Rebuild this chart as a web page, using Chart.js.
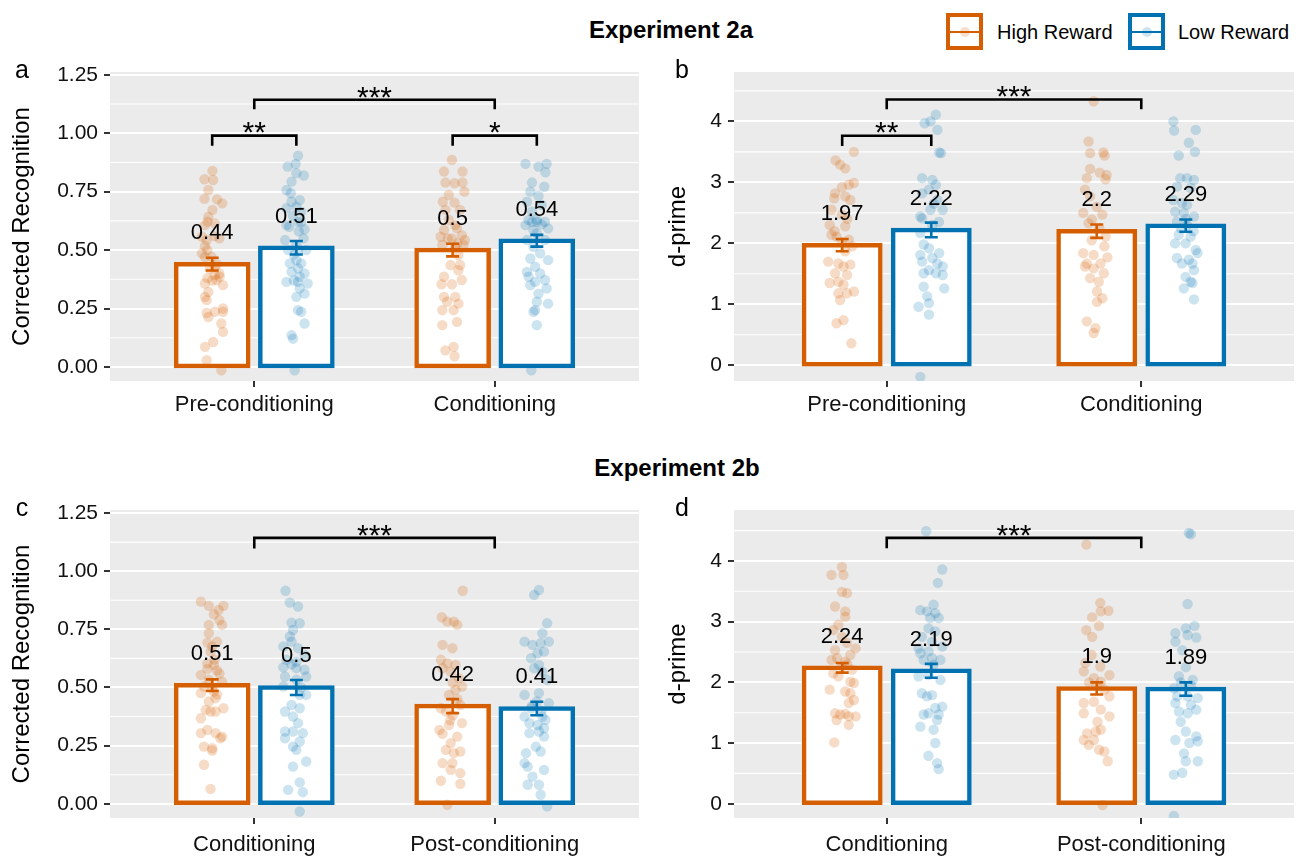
<!DOCTYPE html>
<html><head><meta charset="utf-8">
<script src="https://cdn.jsdelivr.net/npm/chart.js@4.4.1/dist/chart.umd.min.js"></script>
<style>
html,body{margin:0;padding:0;background:#fff;}
#page{position:relative;width:1306px;height:859px;overflow:hidden;font-family:"Liberation Sans",Arial,Helvetica,sans-serif;}
canvas{position:absolute;}
.t{position:absolute;white-space:nowrap;color:#000;line-height:1;transform:translate(-50%,-50%);}
.lg{position:absolute;white-space:nowrap;color:#000;line-height:1;transform:translateY(-50%);font-size:20px;}
.box{position:absolute;width:37px;height:37px;box-sizing:border-box;border:4px solid;background:#fff;}
.box .ln{position:absolute;left:0;right:0;top:13.5px;height:2.5px;}
.box .dt{position:absolute;left:9.5px;top:9.5px;width:10px;height:10px;border-radius:50%;}
</style></head><body><div id="page">
<canvas id="ca" width="655" height="385" style="left:0px;top:50px;"></canvas>
<canvas id="cb" width="646" height="385" style="left:660px;top:50px;"></canvas>
<canvas id="cc" width="655" height="371" style="left:0px;top:488px;"></canvas>
<canvas id="cd" width="646" height="371" style="left:660px;top:488px;"></canvas>

<div class="t" style="left:671px;top:30px;font-size:24px;font-weight:bold;">Experiment 2a</div>
<div class="t" style="left:677px;top:468px;font-size:24px;font-weight:bold;">Experiment 2b</div>
<div class="t" style="left:22px;top:69px;font-size:25px;">a</div>
<div class="t" style="left:682px;top:69px;font-size:25px;">b</div>
<div class="t" style="left:22px;top:507px;font-size:25px;">c</div>
<div class="t" style="left:682px;top:507px;font-size:25px;">d</div>

<div class="box" style="left:946px;top:13px;border-color:#D55E00;"><div class="ln" style="background:#D55E00"></div><div class="dt" style="background:rgba(213,94,0,0.2)"></div></div>
<div class="lg" style="left:997px;top:32px;">High Reward</div>
<div class="box" style="left:1128px;top:13px;border-color:#0072B2;"><div class="ln" style="background:#0072B2"></div><div class="dt" style="background:rgba(0,114,178,0.2)"></div></div>
<div class="lg" style="left:1178px;top:32px;">Low Reward</div>
</div>
<script>
// ---------------- DATA ----------------
const CATS_2A = ['Pre-conditioning', 'Conditioning'];
const CATS_2B = ['Conditioning', 'Post-conditioning'];
const Y_TICKS_REC = [0, 0.25, 0.5, 0.75, 1.0, 1.25];
const Y_TICKS_DP = [0, 1, 2, 3, 4];

// bar means (High, Low) per category
const A_HIGH_MEAN = [0.44, 0.5];  const A_LOW_MEAN = [0.51, 0.54];
const B_HIGH_MEAN = [1.97, 2.2];  const B_LOW_MEAN = [2.22, 2.29];
const C_HIGH_MEAN = [0.51, 0.42]; const C_LOW_MEAN = [0.5, 0.41];
const D_HIGH_MEAN = [2.24, 1.9];  const D_LOW_MEAN = [2.19, 1.89];
// standard errors
const A_HIGH_SE = [0.027, 0.027]; const A_LOW_SE = [0.029, 0.025];
const B_HIGH_SE = [0.10, 0.11];   const B_LOW_SE = [0.12, 0.10];
const C_HIGH_SE = [0.025, 0.03];  const C_LOW_SE = [0.032, 0.029];
const D_HIGH_SE = [0.08, 0.10];   const D_LOW_SE = [0.115, 0.11];

// significance brackets: [from, to, height, tip, label]; from/to: category index +/- side (-1 high, +1 low, 0 centre)
const A_SIG = [[[1,-1],[1,1],0.99,0.043,'**'], [[2,-1],[2,1],0.99,0.043,'*'], [[1,0],[2,0],1.143,0.04,'***']];
const B_SIG = [[[1,-1],[1,1],3.765,0.17,'**'], [[1,0],[2,0],4.36,0.16,'***']];
const C_SIG = [[[1,0],[2,0],1.143,0.045,'***']];
const D_SIG = [[[1,0],[2,0],4.38,0.17,'***']];

// individual participants: [value, horizontal jitter]
const A_PRE_HIGH = [[0.839,0.001],[0.803,-0.032],[0.800,0.004],[0.757,-0.016],[0.719,-0.032],[0.717,0.020],[0.700,0.042],[0.672,0.001],[0.643,-0.016],[0.622,-0.019],[0.607,-0.030],[0.614,0.011],[0.560,0.010],[0.557,-0.043],[0.550,0.030],[0.543,-0.023],[0.517,-0.030],[0.500,-0.020],[0.486,-0.043],[0.471,-0.003],[0.470,-0.030],[0.440,0.020],[0.429,0.011],[0.420,-0.010],[0.400,0.030],[0.393,0.011],[0.386,0.031],[0.380,-0.020],[0.372,0.018],[0.370,0.000],[0.357,-0.030],[0.350,0.045],[0.321,-0.016],[0.300,-0.030],[0.286,-0.023],[0.250,0.045],[0.236,0.045],[0.236,0.011],[0.231,-0.023],[0.214,-0.016],[0.186,0.038],[0.150,0.045],[0.107,0.004],[0.086,-0.030],[0.029,-0.023],[-0.014,0.038]];
const A_PRE_LOW = [[0.904,0.007],[0.869,-0.003],[0.857,-0.036],[0.829,0.000],[0.819,0.031],[0.793,-0.020],[0.757,-0.041],[0.743,-0.023],[0.714,0.014],[0.707,-0.020],[0.686,0.000],[0.679,-0.041],[0.664,0.020],[0.646,-0.014],[0.621,0.007],[0.620,0.020],[0.607,-0.041],[0.600,-0.030],[0.589,0.034],[0.580,0.010],[0.550,0.030],[0.543,-0.047],[0.522,0.000],[0.500,0.007],[0.500,-0.034],[0.500,0.041],[0.480,-0.010],[0.457,0.000],[0.443,-0.027],[0.443,0.020],[0.422,0.007],[0.407,-0.020],[0.400,0.034],[0.386,0.014],[0.370,-0.010],[0.364,-0.041],[0.364,0.007],[0.357,0.047],[0.336,0.014],[0.314,0.034],[0.300,0.000],[0.243,0.007],[0.236,0.020],[0.186,0.034],[0.136,-0.020],[0.121,-0.014],[-0.014,-0.007]];
const A_COND_HIGH = [[0.886,-0.003],[0.836,-0.036],[0.836,0.041],[0.789,-0.030],[0.786,0.008],[0.789,0.041],[0.750,0.049],[0.736,-0.016],[0.707,-0.041],[0.703,0.008],[0.672,-0.030],[0.672,0.031],[0.629,-0.016],[0.607,0.011],[0.593,0.018],[0.586,-0.036],[0.564,0.038],[0.557,-0.050],[0.550,-0.003],[0.550,-0.020],[0.543,0.051],[0.530,0.020],[0.522,0.045],[0.522,-0.043],[0.514,0.011],[0.479,0.024],[0.436,-0.009],[0.436,0.031],[0.414,0.024],[0.386,-0.036],[0.372,0.038],[0.354,-0.046],[0.354,-0.003],[0.300,-0.036],[0.300,0.011],[0.279,-0.023],[0.271,0.024],[0.243,-0.043],[0.243,0.004],[0.193,0.018],[0.179,-0.043],[0.086,0.004],[0.071,-0.030],[0.046,0.008]];
const A_COND_LOW = [[0.869,-0.047],[0.857,0.007],[0.869,0.041],[0.833,0.036],[0.789,-0.020],[0.771,0.031],[0.750,-0.027],[0.732,0.007],[0.707,-0.041],[0.693,0.020],[0.664,-0.020],[0.630,0.000],[0.629,-0.034],[0.621,0.000],[0.621,0.034],[0.620,-0.020],[0.610,0.020],[0.607,-0.047],[0.593,0.047],[0.586,-0.014],[0.572,0.000],[0.543,-0.041],[0.543,0.034],[0.514,-0.014],[0.486,0.014],[0.464,-0.027],[0.457,0.047],[0.429,-0.007],[0.407,-0.041],[0.400,0.014],[0.386,-0.034],[0.372,0.034],[0.364,-0.007],[0.350,-0.027],[0.336,0.041],[0.314,0.007],[0.279,0.000],[0.271,0.047],[0.243,-0.007],[0.236,-0.014],[0.179,0.000],[-0.014,-0.023]];

const B_PRE_HIGH = [[3.50,0.046],[3.36,-0.026],[3.29,-0.008],[3.23,0.012],[2.99,0.046],[2.96,0.026],[2.92,-0.001],[2.82,-0.028],[2.77,0.012],[2.74,-0.031],[2.71,0.032],[2.55,-0.042],[2.47,-0.001],[2.40,0.020],[2.30,-0.049],[2.28,0.012],[2.20,-0.030],[2.14,-0.042],[2.11,-0.022],[2.06,0.026],[2.02,0.000],[1.95,0.039],[1.87,0.012],[1.70,-0.055],[1.67,-0.015],[1.65,0.032],[1.62,0.005],[1.51,-0.028],[1.48,0.019],[1.37,-0.015],[1.35,-0.049],[1.32,0.005],[1.21,0.046],[1.18,0.019],[1.18,-0.015],[1.07,-0.008],[0.74,0.005],[0.69,-0.022],[0.36,0.036]];
const B_PRE_LOW = [[4.11,0.018],[4.00,-0.003],[3.97,-0.026],[3.86,0.024],[3.49,0.031],[3.48,0.038],[3.07,-0.036],[3.04,0.004],[2.96,0.018],[2.88,-0.009],[2.82,-0.036],[2.71,0.024],[2.65,0.010],[2.55,0.045],[2.55,-0.003],[2.44,-0.043],[2.41,-0.036],[2.35,0.030],[2.30,0.004],[2.17,-0.043],[1.98,-0.030],[1.92,-0.009],[1.84,0.031],[1.81,-0.043],[1.76,0.004],[1.70,-0.036],[1.67,0.024],[1.62,0.045],[1.56,-0.009],[1.51,-0.030],[1.51,0.018],[1.48,0.045],[1.29,-0.030],[1.26,0.051],[1.13,-0.016],[1.02,-0.009],[0.96,-0.050],[0.83,-0.009],[-0.19,-0.043]];
const B_COND_HIGH = [[4.33,-0.012],[3.67,-0.032],[3.49,0.026],[3.48,-0.026],[3.44,0.031],[3.22,-0.026],[3.16,0.012],[3.12,0.039],[3.07,-0.039],[3.05,0.035],[2.88,-0.046],[2.77,-0.026],[2.60,0.000],[2.50,-0.053],[2.47,0.022],[2.39,-0.019],[2.33,-0.032],[2.25,0.010],[2.11,0.035],[2.05,-0.020],[1.95,0.030],[1.84,-0.053],[1.81,-0.012],[1.77,0.042],[1.67,-0.039],[1.67,0.015],[1.62,-0.046],[1.59,-0.012],[1.51,0.028],[1.43,-0.026],[1.37,0.008],[1.21,0.001],[1.10,0.022],[1.04,0.001],[0.72,-0.039],[0.61,-0.005],[0.53,-0.012]];
const B_COND_LOW = [[4.00,-0.049],[3.85,-0.046],[3.86,0.039],[3.65,0.012],[3.50,0.036],[3.44,-0.028],[3.07,-0.022],[3.07,0.005],[3.04,0.032],[2.93,-0.035],[2.91,0.019],[2.71,-0.049],[2.66,-0.015],[2.63,0.005],[2.52,-0.042],[2.50,-0.008],[2.44,0.032],[2.40,0.000],[2.36,-0.035],[2.30,0.005],[2.25,-0.020],[2.20,0.030],[2.14,-0.028],[2.11,0.019],[2.00,-0.042],[2.00,-0.001],[1.89,0.039],[1.84,0.046],[1.76,-0.035],[1.73,0.012],[1.67,-0.015],[1.67,0.026],[1.56,0.032],[1.45,-0.001],[1.37,0.019],[1.35,0.026],[1.26,-0.008],[1.08,0.032]];

const C_COND_HIGH = [[0.869,-0.047],[0.851,-0.014],[0.851,0.047],[0.833,0.027],[0.815,0.007],[0.790,0.030],[0.769,0.041],[0.769,-0.014],[0.733,-0.014],[0.697,0.020],[0.693,-0.020],[0.676,0.000],[0.654,-0.007],[0.620,0.010],[0.604,-0.020],[0.597,0.007],[0.580,-0.020],[0.573,0.020],[0.560,0.030],[0.554,-0.047],[0.533,-0.014],[0.525,0.041],[0.504,-0.034],[0.500,0.000],[0.482,0.007],[0.476,-0.047],[0.470,0.020],[0.454,0.014],[0.440,-0.014],[0.411,0.047],[0.404,-0.027],[0.397,-0.007],[0.397,0.014],[0.368,-0.047],[0.318,-0.020],[0.304,-0.047],[0.304,0.014],[0.289,0.041],[0.282,0.034],[0.246,-0.034],[0.239,0.000],[0.229,0.000],[0.168,-0.034],[0.064,-0.007]];
const C_COND_LOW = [[0.916,-0.045],[0.865,-0.027],[0.848,0.007],[0.779,-0.020],[0.776,0.014],[0.747,-0.014],[0.719,-0.027],[0.697,-0.020],[0.676,-0.054],[0.669,0.007],[0.640,0.034],[0.619,-0.041],[0.610,0.000],[0.600,-0.020],[0.587,-0.054],[0.583,0.000],[0.576,0.034],[0.547,-0.047],[0.547,0.041],[0.533,0.000],[0.504,-0.054],[0.500,0.020],[0.468,0.041],[0.468,0.014],[0.425,-0.020],[0.411,0.014],[0.397,-0.047],[0.375,-0.014],[0.347,0.007],[0.311,-0.014],[0.311,-0.047],[0.304,0.027],[0.282,-0.047],[0.268,0.014],[0.246,-0.014],[0.232,0.000],[0.182,0.041],[0.160,-0.014],[0.092,0.014],[0.060,-0.034],[0.050,0.027],[-0.033,0.014]];
const C_POST_HIGH = [[0.916,0.042],[0.802,-0.045],[0.783,-0.022],[0.783,0.005],[0.769,0.019],[0.683,-0.042],[0.669,-0.001],[0.619,-0.049],[0.604,-0.022],[0.597,0.012],[0.583,-0.042],[0.568,-0.008],[0.540,0.026],[0.520,0.000],[0.504,0.039],[0.490,0.012],[0.468,-0.015],[0.450,0.020],[0.425,0.032],[0.411,-0.049],[0.397,-0.028],[0.380,0.000],[0.360,-0.010],[0.347,0.039],[0.339,-0.015],[0.318,-0.055],[0.301,-0.042],[0.289,0.019],[0.261,-0.008],[0.232,-0.028],[0.225,0.032],[0.218,0.005],[0.175,-0.042],[0.175,-0.001],[0.146,-0.008],[0.132,0.032],[0.099,-0.049],[0.086,0.032],[-0.004,-0.022]];
const C_POST_LOW = [[0.919,0.009],[0.898,-0.011],[0.776,0.043],[0.733,0.023],[0.697,-0.051],[0.697,0.050],[0.690,0.016],[0.683,-0.018],[0.654,0.030],[0.647,0.003],[0.626,-0.024],[0.597,0.009],[0.583,-0.011],[0.568,0.023],[0.533,0.043],[0.476,0.009],[0.468,-0.051],[0.440,0.000],[0.433,0.050],[0.420,-0.020],[0.411,-0.024],[0.400,0.020],[0.375,-0.051],[0.375,0.023],[0.361,0.036],[0.347,-0.031],[0.339,0.003],[0.325,0.030],[0.311,0.009],[0.304,-0.031],[0.289,0.030],[0.246,-0.004],[0.225,0.016],[0.218,-0.045],[0.175,-0.051],[0.160,-0.038],[0.146,0.030],[0.117,-0.018],[0.082,-0.038],[0.082,0.009],[0.039,0.016],[-0.011,0.043]];

const D_COND_HIGH = [[3.90,-0.001],[3.77,-0.042],[3.77,0.005],[3.49,-0.001],[3.47,0.019],[3.25,-0.028],[3.17,0.012],[3.08,0.012],[2.95,-0.015],[2.86,-0.035],[2.75,-0.001],[2.65,0.019],[2.56,0.053],[2.53,-0.028],[2.45,0.032],[2.40,-0.020],[2.37,-0.042],[2.34,0.012],[2.30,0.020],[2.26,-0.001],[2.21,0.039],[2.15,-0.035],[2.10,-0.015],[2.01,0.032],[1.99,0.046],[1.88,-0.049],[1.85,0.012],[1.82,0.032],[1.71,0.046],[1.66,0.026],[1.49,-0.028],[1.48,0.012],[1.47,-0.008],[1.44,0.026],[1.44,0.053],[1.38,-0.022],[1.30,0.026],[1.01,-0.031]];
const D_COND_LOW = [[4.49,-0.020],[3.86,0.043],[3.64,0.026],[3.28,0.009],[3.19,-0.043],[3.17,-0.017],[3.14,0.016],[3.06,-0.004],[3.06,0.029],[2.89,-0.011],[2.84,0.016],[2.75,-0.037],[2.67,0.003],[2.59,0.043],[2.56,-0.050],[2.51,-0.011],[2.48,-0.043],[2.40,0.003],[2.37,-0.030],[2.37,0.036],[2.29,0.009],[2.12,-0.011],[2.10,-0.050],[2.04,0.036],[1.82,-0.037],[1.79,0.003],[1.77,-0.017],[1.60,0.043],[1.58,0.016],[1.49,-0.011],[1.47,0.029],[1.47,-0.030],[1.38,0.023],[1.27,-0.043],[1.22,0.009],[1.00,0.016],[0.79,-0.011],[0.67,0.023],[0.57,0.029]];
const D_POST_HIGH = [[4.27,-0.041],[3.31,0.014],[3.18,0.046],[3.17,0.016],[3.07,-0.018],[2.93,0.009],[2.86,-0.041],[2.75,-0.018],[2.45,-0.020],[2.32,-0.045],[2.26,0.014],[2.18,-0.051],[2.12,0.050],[2.07,-0.011],[2.01,0.016],[2.00,-0.030],[1.95,0.000],[1.88,0.030],[1.77,0.050],[1.68,-0.011],[1.66,-0.051],[1.55,0.016],[1.49,-0.051],[1.44,0.050],[1.35,0.003],[1.22,0.016],[1.19,-0.004],[1.16,-0.038],[1.05,-0.051],[1.05,-0.011],[0.97,-0.031],[0.89,0.009],[0.86,0.030],[0.70,0.043],[-0.02,0.023]];
const D_POST_LOW = [[4.46,0.012],[4.44,0.020],[3.29,0.007],[2.93,0.034],[2.89,0.000],[2.81,-0.041],[2.78,0.007],[2.74,0.041],[2.67,-0.041],[2.53,-0.014],[2.25,0.000],[2.10,-0.027],[2.04,0.027],[2.00,-0.020],[1.95,0.020],[1.90,-0.047],[1.77,-0.034],[1.77,0.007],[1.74,0.047],[1.66,-0.041],[1.63,0.020],[1.55,0.041],[1.52,-0.027],[1.49,0.007],[1.35,-0.020],[1.19,0.000],[1.11,0.041],[1.05,-0.041],[1.03,0.047],[1.00,0.014],[0.83,-0.007],[0.70,0.000],[0.70,0.047],[0.51,-0.014],[0.48,-0.047],[-0.20,-0.047]];

// ---------------- STYLE ----------------
const HIGH = '#D55E00', LOW = '#0072B2';
const HIGH_PT = 'rgba(213,94,0,0.22)', LOW_PT = 'rgba(0,114,178,0.2)';
const OFF = 0.175;       // dodge offset (category units)
const FONT = '"Liberation Sans", Arial, Helvetica, sans-serif';
const TXT = '#111';
const STAR_SIZE = 30;

function makePanel(id, p) {
  const nCat = p.cats.length;
  const barData = (means, sign) => means.map((m, i) => ({x: i + 1 + sign * OFF, y: m}));
  const ptData = (groups, sign) => groups.flatMap((g, i) => g.map(q => ({x: i + 1 + sign * OFF + q[1], y: q[0]})));
  const minors = p.ticks.slice(0, -1).map((v, i) => (v + p.ticks[i + 1]) / 2)
      .concat([p.ticks[p.ticks.length - 1] + (p.ticks[1] - p.ticks[0]) / 2])
      .filter(v => v > p.yMin && v < p.yMax);

  const extras = {
    id: 'extras',
    beforeDraw(chart) {
      const {ctx, chartArea: a, scales: {y}} = chart;
      ctx.save();
      ctx.fillStyle = '#EBEBEB';
      ctx.fillRect(a.left, a.top, a.right - a.left, a.bottom - a.top);
      ctx.strokeStyle = '#FFFFFF';
      ctx.lineWidth = 1.1;
      minors.forEach(v => {
        const py = y.getPixelForValue(v);
        ctx.beginPath(); ctx.moveTo(a.left, py); ctx.lineTo(a.right, py); ctx.stroke();
      });
      ctx.restore();
    },
    afterDatasetsDraw(chart) {
      const {ctx, scales: {x, y}} = chart;
      ctx.save();
      const series = [[p.highMean, p.highSe, -1, HIGH], [p.lowMean, p.lowSe, 1, LOW]];
      ctx.lineWidth = 2.6;
      series.forEach(([means, ses, sign, col]) => {
        means.forEach((m, i) => {
          const cx = x.getPixelForValue(i + 1 + sign * OFF);
          const t = y.getPixelForValue(m + ses[i]), b = y.getPixelForValue(m - ses[i]);
          ctx.strokeStyle = col;
          ctx.beginPath();
          ctx.moveTo(cx, t); ctx.lineTo(cx, b);
          ctx.moveTo(cx - 6.5, t); ctx.lineTo(cx + 6.5, t);
          ctx.moveTo(cx - 6.5, b); ctx.lineTo(cx + 6.5, b);
          ctx.stroke();
        });
      });
      ctx.fillStyle = '#000';
      ctx.font = '22px ' + FONT;
      ctx.textAlign = 'center';
      ctx.textBaseline = 'alphabetic';
      series.forEach(([means, ses, sign]) => {
        means.forEach((m, i) => {
          const cx = x.getPixelForValue(i + 1 + sign * OFF);
          const py = y.getPixelForValue(m) - 33 + 8;
          ctx.fillText(String(m), cx, py);
        });
      });
      ctx.strokeStyle = '#000';
      ctx.lineWidth = 2.6;
      ctx.font = STAR_SIZE + 'px ' + FONT;
      p.sigs.forEach(([f, t, h, tip, lab]) => {
        const x1 = x.getPixelForValue(f[0] + f[1] * OFF), x2 = x.getPixelForValue(t[0] + t[1] * OFF);
        const yl = y.getPixelForValue(h), yt = y.getPixelForValue(h - tip);
        ctx.beginPath();
        ctx.moveTo(x1, yt); ctx.lineTo(x1, yl); ctx.lineTo(x2, yl); ctx.lineTo(x2, yt);
        ctx.stroke();
        ctx.fillText(lab, (x1 + x2) / 2, yl - 10.5 + 0.575 * STAR_SIZE);
      });
      ctx.restore();
    }
  };

  return new Chart(document.getElementById(id), {
    type: 'bar',
    data: {
      datasets: [
        {type: 'scatter', data: ptData(p.highPts, -1), backgroundColor: HIGH_PT, pointRadius: 5.2, borderWidth: 0, order: 0},
        {type: 'scatter', data: ptData(p.lowPts, 1), backgroundColor: LOW_PT, pointRadius: 5.2, borderWidth: 0, order: 0},
        {type: 'bar', data: barData(p.highMean, -1), backgroundColor: '#fff', borderColor: HIGH, borderWidth: 4.5,
         borderSkipped: false, inflateAmount: 2.25, grouped: false, barPercentage: 0.857, categoryPercentage: 1, order: 1},
        {type: 'bar', data: barData(p.lowMean, 1), backgroundColor: '#fff', borderColor: LOW, borderWidth: 4.5,
         borderSkipped: false, inflateAmount: 2.25, grouped: false, barPercentage: 0.857, categoryPercentage: 1, order: 1}
      ]
    },
    options: {
      responsive: false, animation: false, devicePixelRatio: 1,
      layout: {padding: {top: p.padTop, right: p.padRight, left: 0, bottom: 0}},
      plugins: {legend: {display: false}, tooltip: {enabled: false}},
      events: [],
      scales: {
        x: {
          type: 'linear', min: 0.4, max: nCat + 0.6, offset: false,
          afterBuildTicks: s => { s.ticks = p.cats.map((c, i) => ({value: i + 1})); },
          afterFit: s => { s.height = p.xH; },
          ticks: {callback: v => p.cats[v - 1], autoSkip: false, maxRotation: 0, color: TXT, padding: p.xPad,
                  font: {family: FONT, size: 22}},
          grid: {offset: false, drawOnChartArea: false, tickColor: '#333', tickLength: 6, tickWidth: 2, lineWidth: 2},
          border: {display: false}
        },
        y: {
          type: 'linear', min: p.yMin, max: p.yMax,
          afterBuildTicks: s => { s.ticks = p.ticks.map(v => ({value: v})); },
          afterFit: s => { s.width = p.yW; },
          ticks: {callback: v => p.fmt(v), color: TXT, padding: 6, font: {family: FONT, size: 21}},
          grid: {color: '#FFFFFF', lineWidth: 2, tickColor: '#333', tickLength: 6, tickWidth: 2},
          border: {display: false},
          title: {display: true, text: p.yTitle, color: '#000', font: {family: FONT, size: 24},
                  padding: {top: p.titlePad, bottom: 0}}
        }
      }
    },
    plugins: [extras]
  });
}

const fmtRec = v => v.toFixed(2);
const fmtDp = v => String(v);

makePanel('ca', {cats: CATS_2A, ticks: Y_TICKS_REC, fmt: fmtRec, yMin: -0.060, yMax: 1.262,
  highMean: A_HIGH_MEAN, lowMean: A_LOW_MEAN, highSe: A_HIGH_SE, lowSe: A_LOW_SE,
  highPts: [A_PRE_HIGH, A_COND_HIGH], lowPts: [A_PRE_LOW, A_COND_LOW], sigs: A_SIG,
  yTitle: 'Corrected Recognition', yW: 110, xH: 54, xPad: 5, padTop: 22, padRight: 16, titlePad: 8});
makePanel('cb', {cats: CATS_2A, ticks: Y_TICKS_DP, fmt: fmtDp, yMin: -0.258, yMax: 4.81,
  highMean: B_HIGH_MEAN, lowMean: B_LOW_MEAN, highSe: B_HIGH_SE, lowSe: B_LOW_SE,
  highPts: [B_PRE_HIGH, B_COND_HIGH], lowPts: [B_PRE_LOW, B_COND_LOW], sigs: B_SIG,
  yTitle: 'd-prime', yW: 74, xH: 54, xPad: 5, padTop: 22, padRight: 12, titlePad: 3.6});
makePanel('cc', {cats: CATS_2B, ticks: Y_TICKS_REC, fmt: fmtRec, yMin: -0.061, yMax: 1.263,
  highMean: C_HIGH_MEAN, lowMean: C_LOW_MEAN, highSe: C_HIGH_SE, lowSe: C_LOW_SE,
  highPts: [C_COND_HIGH, C_POST_HIGH], lowPts: [C_COND_LOW, C_POST_LOW], sigs: C_SIG,
  yTitle: 'Corrected Recognition', yW: 110, xH: 41, xPad: 8, padTop: 22, padRight: 16, titlePad: 8});
makePanel('cd', {cats: CATS_2B, ticks: Y_TICKS_DP, fmt: fmtDp, yMin: -0.235, yMax: 4.84,
  highMean: D_HIGH_MEAN, lowMean: D_LOW_MEAN, highSe: D_HIGH_SE, lowSe: D_LOW_SE,
  highPts: [D_COND_HIGH, D_POST_HIGH], lowPts: [D_COND_LOW, D_POST_LOW], sigs: D_SIG,
  yTitle: 'd-prime', yW: 74, xH: 41, xPad: 8, padTop: 22, padRight: 12, titlePad: 3.6});
</script>
</body></html>
